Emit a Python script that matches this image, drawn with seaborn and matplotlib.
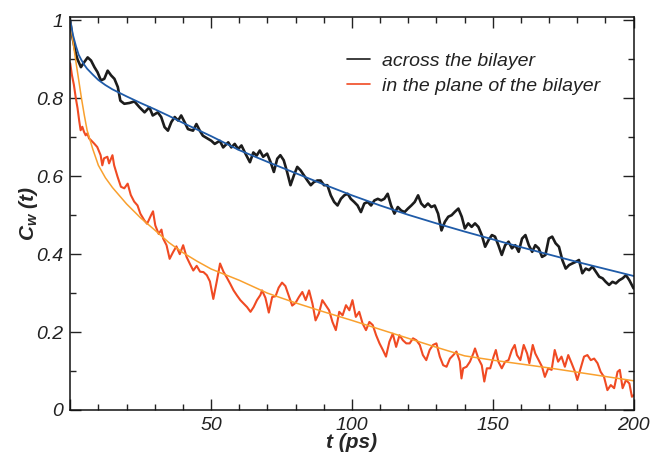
import numpy as np
import pandas as pd
import matplotlib
matplotlib.use("Agg")
import matplotlib.pyplot as plt
from matplotlib.ticker import MultipleLocator, FixedLocator, FuncFormatter
import seaborn as sns

# Water orientation correlation C_w(t), time in ps
across_t = [0, 0.7, 1.4, 2.0, 2.6, 3.8, 5.0, 6.2, 7.4, 8.6, 9.7, 10.9, 12.1, 13.3, 14.5,
            15.7, 16.9, 17.8, 19.2, 21.0, 22.8, 24.6, 26.4, 28.1, 29.3, 31.1, 32.3, 33.5,
            34.7, 35.9, 37.1, 38.3, 39.4, 40.6, 41.8, 43.6, 44.8, 46.0, 47.1, 48.9, 50.1,
            51.3, 53.1, 54.3, 56.1, 57.2, 58.4, 59.6, 60.8, 62.0, 63.8, 65.0, 66.2, 67.3,
            68.5, 69.9, 71.1, 72.3, 73.5, 74.6, 75.8, 77.0, 78.2, 79.4, 80.6, 81.8, 83.0,
            84.2, 85.4, 86.5, 87.7, 88.9, 90.1, 91.3, 92.5, 93.7, 94.9, 96.1, 97.3, 98.5,
            99.6, 100.8, 102.0, 103.2, 104.4, 105.6, 106.8, 108.0, 109.2, 110.4, 111.5,
            112.7, 113.9, 115.1, 116.3, 117.5, 118.7, 119.9, 121.1, 122.3, 123.5, 124.6,
            125.8, 127.0, 128.2, 129.4, 130.6, 131.8, 133.0, 134.2, 135.4, 136.6, 137.8,
            139.0, 140.1, 141.3, 142.5, 143.7, 144.9, 146.1, 147.3, 148.5, 149.7, 150.8,
            152.0, 153.2, 154.4, 155.6, 156.8, 158.0, 159.2, 160.4, 161.6, 162.8, 164.0,
            165.1, 166.3, 167.5, 168.7, 169.9, 171.1, 172.3, 173.5, 174.7, 175.9, 177.1,
            178.2, 179.4, 180.6, 181.8, 183.0, 184.2, 185.4, 186.6, 187.8, 189.0, 190.1,
            191.3, 192.5, 193.7, 194.9, 196.1, 197.3, 198.5, 200.0]
across_c = [1.0, 0.96, 0.936, 0.915, 0.90, 0.88, 0.893, 0.905, 0.897, 0.88, 0.867, 0.846,
            0.85, 0.871, 0.859, 0.85, 0.829, 0.794, 0.786, 0.788, 0.792, 0.777, 0.764,
            0.777, 0.756, 0.764, 0.752, 0.726, 0.717, 0.739, 0.752, 0.743, 0.756, 0.739,
            0.721, 0.717, 0.734, 0.717, 0.704, 0.696, 0.691, 0.683, 0.691, 0.674, 0.687,
            0.674, 0.683, 0.670, 0.679, 0.661, 0.636, 0.661, 0.653, 0.666, 0.650, 0.658,
            0.637, 0.611, 0.645, 0.654, 0.641, 0.611, 0.577, 0.602, 0.624, 0.615, 0.602,
            0.589, 0.577, 0.585, 0.589, 0.589, 0.577, 0.577, 0.551, 0.534, 0.525, 0.542,
            0.551, 0.555, 0.542, 0.534, 0.525, 0.508, 0.530, 0.534, 0.525, 0.538, 0.542,
            0.538, 0.542, 0.555, 0.525, 0.504, 0.521, 0.512, 0.508, 0.517, 0.525, 0.534,
            0.551, 0.530, 0.521, 0.530, 0.521, 0.525, 0.504, 0.461, 0.483, 0.496, 0.500,
            0.509, 0.517, 0.496, 0.466, 0.479, 0.470, 0.479, 0.470, 0.449, 0.419, 0.436,
            0.449, 0.445, 0.423, 0.398, 0.423, 0.432, 0.415, 0.423, 0.406, 0.440, 0.449,
            0.423, 0.406, 0.423, 0.415, 0.393, 0.398, 0.440, 0.445, 0.428, 0.419, 0.385,
            0.363, 0.372, 0.376, 0.380, 0.385, 0.351, 0.363, 0.359, 0.368, 0.355, 0.342,
            0.338, 0.329, 0.321, 0.329, 0.325, 0.333, 0.338, 0.346, 0.333, 0.312]

plane_t = [0, 0.6, 1.3, 2.0, 2.6, 3.2, 3.7, 4.3, 4.9, 5.5, 6.1, 6.7, 7.3, 8.5, 9.6, 10.8,
           11.4, 12.0, 13.2, 13.8, 15.0, 15.6, 16.8, 18.0, 19.2, 20.4, 21.5, 22.7, 23.9,
           24.9, 26.3, 27.3, 28.7, 29.4, 30.2, 31.4, 32.4, 33.0, 34.2, 35.3, 36.5, 37.7,
           38.9, 40.1, 41.3, 42.5, 43.7, 44.9, 46.1, 47.3, 48.5, 49.6, 50.8, 52.0, 53.2,
           54.4, 55.6, 56.8, 58.0, 59.2, 60.4, 61.6, 62.8, 64.0, 65.1, 66.3, 67.5, 68.1,
           69.3, 70.5, 71.7, 72.9, 74.0, 75.2, 76.4, 77.6, 78.8, 80.0, 81.2, 82.4, 83.6,
           84.8, 86.0, 87.1, 88.3, 89.5, 90.7, 91.9, 93.1, 94.3, 95.5, 96.7, 97.9, 99.1,
           100.2, 101.4, 102.6, 103.8, 105.0, 106.2, 107.4, 108.6, 109.8, 111.0, 112.1,
           113.3, 114.5, 115.7, 116.9, 118.1, 119.3, 120.5, 121.7, 122.9, 124.1, 125.2,
           126.4, 127.6, 128.8, 130.0, 131.2, 132.4, 133.6, 134.8, 136.0, 137.1, 138.3,
           138.9, 139.5, 140.7, 141.9, 143.1, 143.7, 144.9, 146.1, 147.0, 147.9, 149.1,
           150.3, 151.1, 152.0, 153.2, 154.4, 155.6, 156.8, 157.8, 158.6, 159.8, 161.0,
           162.2, 163.0, 164.2, 165.1, 166.3, 167.5, 168.5, 169.7, 170.9, 172.0, 173.2,
           174.4, 175.6, 176.8, 178.0, 179.2, 180.0, 181.2, 182.4, 183.6, 184.8, 186.0,
           187.2, 188.3, 189.5, 190.7, 191.9, 193.1, 194.3, 195.1, 196.1, 197.3, 198.5,
           199.4, 200.0]
plane_c = [0.89, 0.86, 0.835, 0.80, 0.775, 0.742, 0.718, 0.727, 0.714, 0.705, 0.710,
           0.697, 0.693, 0.684, 0.675, 0.654, 0.628, 0.646, 0.650, 0.633, 0.654, 0.628,
           0.599, 0.573, 0.569, 0.581, 0.552, 0.535, 0.525, 0.504, 0.487, 0.478, 0.500,
           0.510, 0.474, 0.452, 0.463, 0.440, 0.423, 0.388, 0.405, 0.420, 0.400, 0.423,
           0.393, 0.375, 0.358, 0.370, 0.355, 0.354, 0.346, 0.330, 0.285, 0.329, 0.376,
           0.355, 0.340, 0.324, 0.307, 0.294, 0.282, 0.273, 0.264, 0.252, 0.264, 0.282,
           0.295, 0.307, 0.288, 0.250, 0.290, 0.292, 0.314, 0.327, 0.318, 0.293, 0.268,
           0.275, 0.290, 0.303, 0.282, 0.307, 0.273, 0.230, 0.248, 0.282, 0.269, 0.256,
           0.226, 0.205, 0.252, 0.243, 0.269, 0.256, 0.282, 0.239, 0.252, 0.222, 0.205,
           0.226, 0.218, 0.192, 0.171, 0.154, 0.137, 0.175, 0.196, 0.162, 0.192, 0.179,
           0.171, 0.171, 0.184, 0.179, 0.167, 0.141, 0.128, 0.154, 0.167, 0.171, 0.137,
           0.115, 0.111, 0.132, 0.141, 0.150, 0.125, 0.081, 0.107, 0.111, 0.124, 0.145,
           0.158, 0.132, 0.115, 0.073, 0.107, 0.107, 0.137, 0.154, 0.124, 0.107, 0.124,
           0.128, 0.154, 0.167, 0.141, 0.128, 0.167, 0.145, 0.120, 0.167, 0.145, 0.128,
           0.111, 0.085, 0.107, 0.103, 0.154, 0.124, 0.137, 0.111, 0.141, 0.120, 0.098,
           0.077, 0.107, 0.137, 0.141, 0.128, 0.132, 0.120, 0.098, 0.085, 0.051, 0.064,
           0.056, 0.098, 0.103, 0.056, 0.077, 0.068, 0.034, 0.038]

# Fitted decay curves
fit_t = [0, 1, 2, 3, 4, 5, 6, 8, 10, 12.5, 15, 20, 25, 30, 35, 40, 45, 50, 60, 70, 80,
         90, 100, 110, 120, 130, 140, 150, 160, 170, 180, 190, 200]
fit_across = [1.0, 0.962, 0.935, 0.912, 0.898, 0.886, 0.876, 0.861, 0.847, 0.834, 0.823,
              0.805, 0.788, 0.772, 0.755, 0.737, 0.720, 0.703, 0.667, 0.637, 0.608, 0.579,
              0.551, 0.525, 0.501, 0.479, 0.458, 0.438, 0.418, 0.399, 0.380, 0.362, 0.344]
fit_plane = [1.0, 0.945, 0.895, 0.848, 0.800, 0.757, 0.718, 0.670, 0.628, 0.596, 0.571,
             0.529, 0.493, 0.462, 0.430, 0.404, 0.382, 0.362, 0.333, 0.300, 0.275, 0.252,
             0.230, 0.207, 0.184, 0.161, 0.139, 0.128, 0.118, 0.108, 0.097, 0.086, 0.075]

sns.set_theme(style="ticks")
plt.rcParams["font.family"] = ["Liberation Sans", "DejaVu Sans"]
plt.rcParams["mathtext.fontset"] = "custom"
plt.rcParams["mathtext.it"] = "Liberation Sans:bold:italic"
plt.rcParams["mathtext.rm"] = "Liberation Sans:bold:italic"

fig = plt.figure(figsize=(6.52, 4.54), dpi=100)
ax = fig.add_axes([70.2 / 652, 1 - 410 / 454, 563.4 / 652, 393.3 / 454])

df_across = pd.DataFrame({"t": across_t, "c": across_c})
df_plane = pd.DataFrame({"t": plane_t, "c": plane_c})
df_fa = pd.DataFrame({"t": fit_t, "c": fit_across})
df_fp = pd.DataFrame({"t": fit_t, "c": fit_plane})

sns.lineplot(data=df_across, x="t", y="c", ax=ax, color="#1c1c1c", lw=1.9,
             estimator=None, sort=False, label="across the bilayer")
sns.lineplot(data=df_plane, x="t", y="c", ax=ax, color="#f04a23", lw=1.5,
             estimator=None, sort=False, label="in the plane of the bilayer")
sns.lineplot(data=df_fp, x="t", y="c", ax=ax, color="#f9a02e", lw=1.1,
             estimator=None, sort=False, legend=False)
sns.lineplot(data=df_fa, x="t", y="c", ax=ax, color="#1f5ba8", lw=1.3,
             estimator=None, sort=False, legend=False)

ax.set_xlim(0, 200)
ax.set_ylim(0, 1.0095)

ax.xaxis.set_major_locator(FixedLocator([0, 50, 100, 150, 200]))
ax.xaxis.set_minor_locator(MultipleLocator(10))
ax.yaxis.set_major_locator(FixedLocator([0, 0.2, 0.4, 0.6, 0.8, 1.0]))
ax.yaxis.set_minor_locator(MultipleLocator(0.1))
ax.xaxis.set_major_formatter(FuncFormatter(lambda v, p: "" if v == 0 else f"{v:g}"))
ax.yaxis.set_major_formatter(FuncFormatter(lambda v, p: f"{v:g}"))

ax.tick_params(which="both", direction="in", top=True, right=True,
               colors="#222222", width=1.0)
ax.tick_params(which="major", length=8, pad=5, labelsize=14)
ax.tick_params(which="minor", length=4.3)
for lab in ax.get_xticklabels() + ax.get_yticklabels():
    lab.set_fontstyle("italic")
for sp in ax.spines.values():
    sp.set_visible(True)
    sp.set_linewidth(1.1)
    sp.set_color("#111111")

ax.set_xlabel("t (ps)", fontsize=15, fontweight="bold", fontstyle="italic", labelpad=-1)
ax.set_ylabel(r"$C_w$ (t)", fontsize=15, fontweight="bold", fontstyle="italic", labelpad=-3)

leg = ax.legend(loc="upper left", bbox_to_anchor=(347 / 652, 1 - 52 / 454),
                bbox_transform=fig.transFigure, frameon=False, fontsize=14,
                handlelength=1.2, handletextpad=0.6, labelspacing=0.4,
                borderpad=0, borderaxespad=0)
for txt in leg.get_texts():
    txt.set_fontstyle("italic")
    txt.set_color("#222222")
for h in leg.get_lines():
    h.set_linewidth(1.2)

fig.savefig("out.png", dpi=100)
